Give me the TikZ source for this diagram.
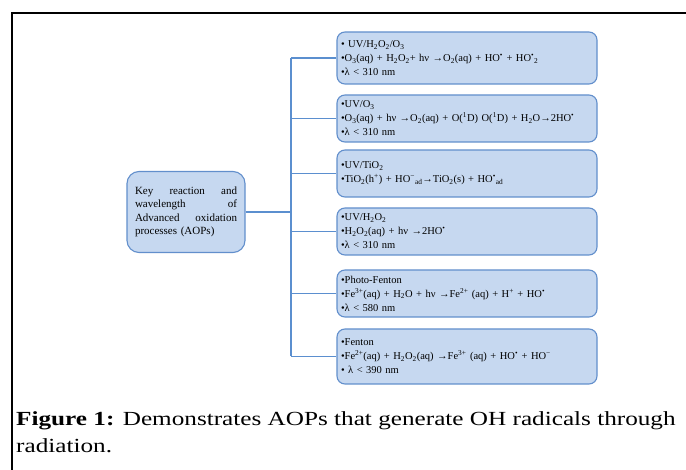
\documentclass[tikz,border=0pt]{standalone}
\usepackage{fontspec}
\setmainfont{Liberation Serif}
\newfontfamily\capfont[FakeStretch=1.26]{Liberation Serif}
\definecolor{boxfill}{RGB}{198,216,240}
\definecolor{boxdraw}{RGB}{98,143,204}
\definecolor{linecol}{RGB}{91,143,207}
\newcommand{\sbt}[1]{\textsubscript{#1}}
\newcommand{\spt}[1]{\textsuperscript{#1}}
\newcommand{\rdot}{\textsuperscript{•}}
\tikzset{
  aopbox/.style={draw=boxdraw, line width=1.1pt, fill=boxfill, rounded corners=8pt,
    minimum width=260pt, text width=252pt, inner sep=4pt, align=left,
    font=\fontsize{10.5}{14}\selectfont},
  rootbox/.style={draw=boxdraw, line width=1.1pt, fill=boxfill, rounded corners=12pt,
    minimum width=118pt, minimum height=81pt, text width=102pt, align=left,
    font=\fontsize{11}{13.5}\selectfont},
  conn/.style={draw=linecol, line width=1.1pt},
  frameline/.style={draw=black, line width=2pt},
  captext/.style={anchor=base west, inner sep=0pt, font=\capfont\fontsize{20}{28}\selectfont}
}
\begin{document}
\begin{tikzpicture}[x=1pt,y=-1pt]
\useasboundingbox (0,0) rectangle (686,470);
\fill[white] (0,0) rectangle (686,470);
\draw[frameline] (12,470) -- (12,13) -- (686,13);

\node[rootbox] (root) at (186,212) {Key\hfill reaction\hfill and\\ wavelength\hfill of\\ Advanced\hfill oxidation\\ processes (AOPs)};

\node[aopbox, minimum height=52pt] (b1) at (467,58) {• UV/H\sbt{2}O\sbt{2}/O\sbt{3}\\
•O\sbt{3}(aq) + H\sbt{2}O\sbt{2}+ hν →O\sbt{2}(aq) + HO\rdot{} + HO\rdot\sbt{2}\\
•λ < 310 nm\par\vspace{9pt}};
\node[aopbox, minimum height=47pt] (b2) at (467,118.5) {•UV/O\sbt{3}\\
•O\sbt{3}(aq) + hν →O\sbt{2}(aq) + O(\spt{1}D) O(\spt{1}D) + H\sbt{2}O→2HO\rdot\\
•λ < 310 nm};
\node[aopbox, minimum height=47pt] (b3) at (467,173.5) {•UV/TiO\sbt{2}\\
•TiO\sbt{2}(h\spt{+}) + HO\spt{−}\sbt{ad}→TiO\sbt{2}(s) + HO\rdot\sbt{ad}};
\node[aopbox, minimum height=47pt] (b4) at (467,231.5) {•UV/H\sbt{2}O\sbt{2}\\
•H\sbt{2}O\sbt{2}(aq) + hν →2HO\rdot\\
•λ < 310 nm};
\node[aopbox, minimum height=47pt] (b5) at (467,293.5) {•Photo-Fenton\\
•Fe\spt{3+}(aq) + H\sbt{2}O + hν →Fe\spt{2+} (aq) + H\spt{+} + HO\rdot\\
•λ < 580 nm};
\node[aopbox, minimum height=55pt] (b6) at (467,356.5) {•Fenton\\
•Fe\spt{2+}(aq) + H\sbt{2}O\sbt{2}(aq) →Fe\spt{3+} (aq) + HO\rdot{} + HO\spt{−}\\
• λ < 390 nm};

\coordinate (J) at (291,212);
\draw[conn] (root.east) -- (J);
\draw[conn] (J |- b1.west) -- (J |- b6.west);
\foreach \b in {b1,b2,b3,b4,b5,b6}{
  \draw[conn] (J |- \b.west) -- (\b.west);
}

\node[captext] (cap1) at (16,425) {\textbf{Figure 1:} Demonstrates AOPs that generate OH radicals through};
\node[captext] (cap2) at (16,453) {radiation.};
\end{tikzpicture}
\end{document}
